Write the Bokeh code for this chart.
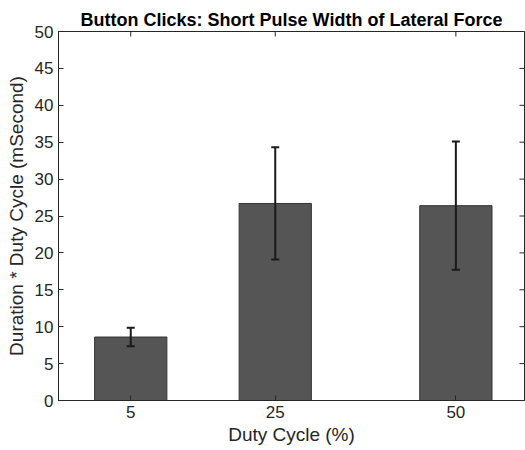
import math
from bokeh.plotting import figure
from bokeh.models import Range1d, FixedTicker, Whisker, ColumnDataSource
from bokeh.embed import file_html
from bokeh.resources import INLINE

duty_cycle = [5, 25, 50]
mean_duration = [8.6, 26.7, 26.4]
err_duration = [1.25, 7.6, 8.7]
y_ticks = [0, 5, 10, 15, 20, 25, 30, 35, 40, 45, 50]
x_lim = (-5, 59.5)
y_lim = (0, 50)

lower = [m - e for m, e in zip(mean_duration, err_duration)]
upper = [m + e for m, e in zip(mean_duration, err_duration)]
src = ColumnDataSource(dict(x=duty_cycle, top=mean_duration, lower=lower, upper=upper))

FONT = "Liberation Sans"
TXT = "#262626"
AX = "#262626"

p = figure(width=525, height=449, output_backend="svg", toolbar_location=None,
           x_range=Range1d(*x_lim), y_range=Range1d(*y_lim),
           min_border_left=58, min_border_right=1, min_border_top=31, min_border_bottom=49,
           x_axis_label="Duty Cycle (%)", y_axis_label="Duration * Duty Cycle (mSecond)")

p.title.text = "Button Clicks: Short Pulse Width of Lateral Force"
p.title.text_font = FONT
p.title.text_font_size = "18px"
p.title.text_font_style = "bold"
p.title.text_color = "#000000"
p.title.align = "center"
p.title.offset = 0
p.title.standoff = 3

p.grid.visible = False
p.outline_line_color = AX
p.outline_line_width = 1
p.background_fill_color = "white"
p.border_fill_color = "white"

p.vbar(x="x", top="top", width=10, bottom=0, source=src,
       fill_color="#555555", line_color="#333333", line_width=1)

w = Whisker(base="x", lower="lower", upper="upper", source=src,
            line_color="#1a1a1a", line_width=2, level="overlay")
for h in (w.upper_head, w.lower_head):
    h.size = 8
    h.line_color = "#1a1a1a"
    h.line_width = 2
p.add_layout(w)

# mirrored inward ticks on top and right (box on)
p.ray(x=duty_cycle, y=[y_lim[1]] * len(duty_cycle), length=5, length_units="screen",
      angle=-math.pi / 2, line_color=AX, line_width=1)
p.ray(x=[x_lim[1]] * len(y_ticks), y=y_ticks, length=5, length_units="screen",
      angle=math.pi, line_color=AX, line_width=1)

for ax in (p.xaxis[0], p.yaxis[0]):
    ax.major_tick_in = 5
    ax.major_tick_out = 0
    ax.minor_tick_in = 0
    ax.minor_tick_out = 0
    ax.axis_line_color = AX
    ax.major_tick_line_color = AX
    ax.major_label_text_font = FONT
    ax.major_label_text_font_size = "17px"
    ax.major_label_text_color = TXT
    ax.axis_label_text_font = FONT
    ax.axis_label_text_font_size = "19px"
    ax.axis_label_text_font_style = "normal"
    ax.axis_label_text_color = TXT

p.xaxis[0].ticker = FixedTicker(ticks=duty_cycle)
p.yaxis[0].ticker = FixedTicker(ticks=y_ticks)
p.xaxis[0].major_label_standoff = 5
p.xaxis[0].axis_label_standoff = 3
p.yaxis[0].major_label_standoff = 5
p.yaxis[0].axis_label_standoff = 5

open("out.html", "w").write(file_html(p, INLINE))
